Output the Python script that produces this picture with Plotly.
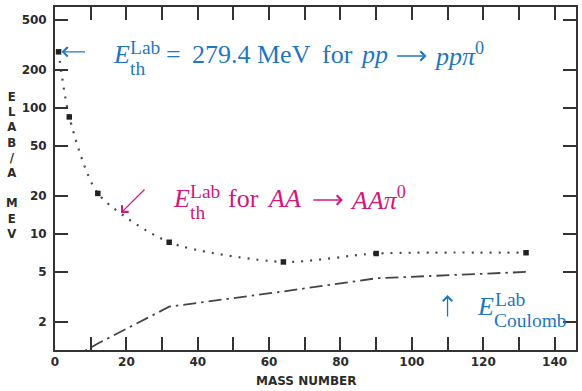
import math
import plotly.graph_objects as go

# Pion-production threshold (lab kinetic energy per nucleon) vs. mass number
mass_number = [1, 4, 12, 32, 64, 90, 132]
e_threshold = [279.4, 85, 21, 8.6, 6.0, 7.0, 7.1]

# Coulomb barrier per nucleon in the lab frame
coulomb_mass = [4, 12, 32, 64, 90, 132]
e_coulomb = [1.0, 1.35, 2.65, 3.5, 4.45, 5.0]

x_ticks = list(range(0, 141, 10))
x_labels = [str(v) if v % 20 == 0 else "" for v in x_ticks]
y_ticks = [2, 5, 10, 20, 50, 100, 200, 500]
y_labels = [str(v) for v in y_ticks]

BLUE = "#1f77c2"
MAGENTA = "#d3187b"
INK = "#2b2b2b"
SERIF = "Liberation Serif"
SANS = "DejaVu Sans"

W, H = 582, 391
L, R, T, B = 55, 4, 7, 41


def paper(xp, yp):
    """Page pixel position -> paper coordinates of the plot area."""
    return (xp - L) / (W - L - R), (H - B - yp) / (H - T - B)


def label(text, xp, baseline, size, color):
    x, y = paper(xp, baseline - 0.338 * size)
    return dict(text=text, x=x, y=y, xref="paper", yref="paper",
                xanchor="left", yanchor="middle", showarrow=False,
                font=dict(family=SERIF, size=size, color=color))


def arrow(x, y, ax, ay, color, xref="paper", yref="paper", standoff=0):
    return dict(text="", x=x, y=y, xref=xref, yref=yref, ax=ax, ay=ay,
                showarrow=True, arrowhead=4, arrowsize=1.4, arrowwidth=1.3,
                arrowcolor=color, standoff=standoff)


fig = go.Figure()

fig.add_trace(go.Scatter(
    x=mass_number, y=e_threshold, mode="lines",
    line=dict(shape="spline", smoothing=0.7, color="#4a4a4a", width=2.2,
              dash="2px,7px"),
    hoverinfo="skip", showlegend=False))

fig.add_trace(go.Scatter(
    x=mass_number, y=e_threshold, mode="markers",
    marker=dict(symbol="square", size=5.5, color="#222"),
    showlegend=False))

fig.add_trace(go.Scatter(
    x=coulomb_mass, y=e_coulomb, mode="lines",
    line=dict(color="#444", width=1.8, dash="13px,5px,2.5px,5px"),
    showlegend=False))

ann = []

# pp threshold label, arrow pointing at the proton point
ann.append(arrow(mass_number[0], math.log10(e_threshold[0]), 28, 0, BLUE,
                 xref="x", yref="y", standoff=3))
ann.append(label("<i>E</i>", 111, 63, 26, BLUE))
ann.append(label("Lab", 128, 54, 19.5, BLUE))
ann.append(label("th", 128, 75, 19.5, BLUE))
ann.append(label("=", 164, 63, 26, BLUE))
ann.append(label("279.4 MeV", 191, 63, 26, BLUE))
ann.append(label("for", 321, 63, 26, BLUE))
ann.append(label("<i>pp</i>", 359, 63, 26, BLUE))
ann.append(arrow(*paper(428, 56), -31, 0, BLUE))
ann.append(label("<i>ppπ</i><sup>0</sup>", 433, 63, 26, BLUE))

# AA threshold label
ann.append(arrow(18.5, math.log10(14.7), 25, -25, MAGENTA, xref="x", yref="y"))
ann.append(label("<i>E</i>", 171, 207, 26, MAGENTA))
ann.append(label("Lab", 189, 198, 19.5, MAGENTA))
ann.append(label("th", 189, 219, 19.5, MAGENTA))
ann.append(label("for", 227, 207, 26, MAGENTA))
ann.append(label("<i>AA</i>", 266, 207, 26, MAGENTA))
ann.append(arrow(*paper(344, 200), -31, 0, MAGENTA))
ann.append(label("<i>AAπ</i><sup>0</sup>", 349, 207, 26, MAGENTA))

# Coulomb barrier label
ann.append(arrow(110, math.log10(4.72), 0, 43, BLUE, xref="x", yref="y",
                 standoff=20))
ann.append(label("<i>E</i>", 477, 315, 26, BLUE))
ann.append(label("Lab", 495, 306, 19.5, BLUE))
ann.append(label("Coulomb", 494, 327, 19.5, BLUE))

# Axis titles
tx, ty = paper(12, 165)
ann.append(dict(text="<br>".join(list("ELAB/A") + [" "] + list("MEV")),
                x=tx, y=ty, xref="paper", yref="paper", showarrow=False,
                xanchor="center", yanchor="middle",
                font=dict(family=SANS, size=11.7, color=INK, weight="bold")))
tx, ty = paper(307, 381)
ann.append(dict(text="MASS NUMBER", x=tx, y=ty, xref="paper", yref="paper",
                showarrow=False, xanchor="center", yanchor="middle",
                font=dict(family=SANS, size=12, color=INK, weight="bold")))

axis_common = dict(
    ticks="inside", ticklen=13, tickwidth=1.5, tickcolor="#333",
    showline=True, linecolor="#333", linewidth=1.8, mirror="ticks",
    showgrid=False, zeroline=False,
    tickfont=dict(family=SANS, size=12, color=INK, weight="bold"),
)

fig.update_layout(
    width=W, height=H,
    margin=dict(l=L, r=R, t=T, b=B),
    paper_bgcolor="white", plot_bgcolor="white",
    xaxis=dict(range=[0, 146], tickvals=x_ticks, ticktext=x_labels,
               **axis_common),
    yaxis=dict(type="log", range=[math.log10(1.2), math.log10(634)],
               tickvals=y_ticks, ticktext=y_labels, ticklabelstandoff=4,
               **axis_common),
    annotations=ann,
)

fig.write_html("out.html")
